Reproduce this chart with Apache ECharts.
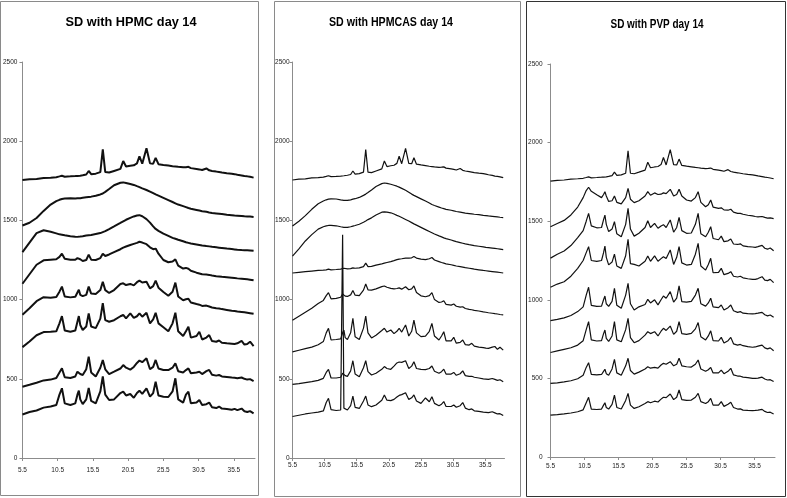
<!DOCTYPE html>
<html><head><meta charset="utf-8">
<script src="https://cdn.jsdelivr.net/npm/echarts@6/dist/echarts.min.js"></script>
<style>html,body{margin:0;padding:0;background:#fff}#c{width:787px;height:498px}</style>
</head><body><div id="c"></div>
<script>
// 2-theta sample positions (degrees)
const twoTheta = [
  5.5, 6.5, 7.5, 8.5, 9.5, 10.3, 10.75, 11.1, 11.5, 12.3,
  13.0, 13.3, 13.5, 13.7, 14.05, 14.55, 14.9, 15.25, 15.9, 16.55,
  16.9, 17.25, 17.8, 18.5, 19.4, 19.8, 20.2, 20.8, 21.3, 21.75,
  22.1, 22.5, 23.1, 23.6, 24.05, 24.4, 24.8, 25.5, 26.2, 26.8,
  27.2, 27.6, 28.3, 28.7, 29.05, 29.4, 30.2, 30.6, 31.0, 31.6,
  32.0, 32.4, 33.0, 33.4, 33.8, 34.5, 35.2, 35.6, 36.0, 36.6,
  37.0, 37.4, 37.8, 38.3
];
const xTickLabels = [5.5, 10.5, 15.5, 20.5, 25.5, 30.5, 35.5];
const yTickStep = 500;
const yMax = 2500;
const panelTitles = ['SD with HPMC day 14', 'SD with HPMCAS day 14', 'SD with PVP day 14'];

// top trace (same in all three panels)
const crystalRef = [
  1755, 1760, 1762, 1768, 1770, 1773, 1778, 1782, 1776, 1778,
  1780, 1781, 1782, 1782, 1785, 1790, 1812, 1792, 1795, 1805,
  1948, 1805, 1802, 1812, 1825, 1875, 1840, 1845, 1848, 1860,
  1905, 1858, 1955, 1860, 1858, 1895, 1855, 1850, 1846, 1842,
  1840, 1838, 1835, 1836, 1838, 1830, 1825, 1822, 1818, 1828,
  1816, 1812, 1808, 1805, 1802, 1798, 1795, 1792, 1788, 1784,
  1780, 1778, 1775, 1770
];

// ---- HPMC ----
const hpmc2 = [
  1468, 1485, 1515, 1560, 1600, 1622, 1630, 1635, 1638, 1640,
  1638, 1640, 1642, 1640, 1643, 1646, 1648, 1650, 1656, 1664,
  1670, 1680, 1698, 1722, 1738, 1740, 1736, 1730, 1724, 1716,
  1710, 1702, 1692, 1682, 1672, 1664, 1656, 1642, 1628, 1616,
  1608, 1600, 1590, 1584, 1578, 1574, 1566, 1562, 1558, 1554,
  1550, 1547, 1544, 1542, 1540, 1536, 1533, 1531, 1530, 1528,
  1526, 1525, 1524, 1522
];
const hpmc3 = [
  1300, 1360, 1420, 1438, 1428, 1418, 1412, 1410, 1406, 1400,
  1397, 1396, 1397, 1398, 1400, 1404, 1406, 1408, 1414, 1420,
  1426, 1432, 1445, 1462, 1484, 1494, 1504, 1516, 1525, 1531,
  1533, 1526, 1508, 1486, 1462, 1446, 1434, 1416, 1402, 1390,
  1384, 1378, 1368, 1362, 1358, 1354, 1348, 1345, 1342, 1338,
  1336, 1333, 1330, 1328, 1326, 1322, 1319, 1317, 1315, 1313,
  1312, 1311, 1310, 1308
];
const hpmc4 = [
  1100, 1160, 1220, 1248, 1252, 1255, 1270, 1290, 1258, 1252,
  1252, 1262, 1270, 1255, 1244, 1250, 1284, 1252, 1250, 1262,
  1290, 1275, 1285, 1300, 1318, 1328, 1335, 1345, 1352, 1358,
  1365, 1360, 1350, 1330, 1318, 1322, 1290, 1250, 1236, 1240,
  1254, 1215, 1196, 1200, 1195, 1182, 1170, 1165, 1160, 1158,
  1156, 1152, 1148, 1146, 1144, 1141, 1138, 1136, 1134, 1132,
  1130, 1128, 1126, 1122
];
const hpmc5 = [
  905, 945, 990, 1015, 1012, 1016, 1050, 1082, 1020, 1014,
  1018, 1045, 1062, 1030, 1022, 1030, 1082, 1038, 1035, 1060,
  1113, 1060, 1042, 1060, 1098, 1103, 1092, 1099, 1090, 1110,
  1120, 1108, 1113, 1071, 1085, 1120, 1075, 1048, 1024, 1050,
  1107, 1020, 996, 1002, 1005, 982, 972, 968, 960, 962,
  956, 950, 945, 944, 940, 935, 930, 928, 925, 922,
  920, 917, 914, 910
];
const hpmc6 = [
  700, 735, 775, 795, 797, 800, 850, 896, 805, 797,
  805, 860, 896, 840, 808, 830, 913, 830, 820, 880,
  977, 870, 860, 870, 895, 903, 882, 913, 885, 895,
  913, 892, 917, 850, 875, 917, 850, 825, 800, 850,
  917, 800, 770, 800, 829, 760, 770, 797, 748, 760,
  776, 738, 734, 742, 728, 724, 722, 720, 724, 739,
  716, 720, 734, 706
];
const hpmc7 = [
  450, 462, 475, 490, 495, 505, 540, 566, 510, 505,
  515, 545, 556, 530, 524, 560, 640, 540, 515, 570,
  619, 560, 530, 545, 565, 587, 570, 558, 575, 600,
  615, 605, 629, 560, 575, 619, 565, 556, 555, 570,
  598, 548, 540, 555, 566, 535, 540, 545, 530, 548,
  556, 526, 520, 524, 515, 512, 508, 506, 504, 508,
  500, 495, 498, 486
];
const hpmc8 = [
  275, 290, 300, 318, 325, 335, 400, 440, 345, 335,
  345, 400, 425, 370, 340, 370, 442, 360, 345, 420,
  515, 400, 366, 370, 410, 419, 395, 404, 380, 410,
  425, 405, 440, 387, 410, 482, 395, 387, 385, 420,
  503, 370, 350, 400, 419, 345, 350, 366, 335, 340,
  350, 320, 315, 325, 312, 310, 305, 310, 302, 312,
  295, 290, 296, 282
];

// ---- HPMCAS ----
const hpmcas2 = [
  1465, 1495, 1530, 1570, 1605, 1622, 1630, 1634, 1636, 1635,
  1630, 1628, 1627, 1626, 1626, 1630, 1634, 1637, 1645, 1658,
  1666, 1676, 1692, 1714, 1732, 1736, 1734, 1728, 1722, 1716,
  1710, 1702, 1690, 1678, 1666, 1658, 1650, 1636, 1622, 1610,
  1600, 1594, 1584, 1578, 1574, 1570, 1564, 1560, 1556, 1552,
  1549, 1546, 1543, 1541, 1539, 1536, 1532, 1530, 1528, 1526,
  1524, 1522, 1520, 1518
];
const hpmcas3 = [
  1275, 1320, 1370, 1410, 1445, 1460, 1465, 1468, 1468, 1466,
  1460, 1458, 1456, 1455, 1456, 1460, 1464, 1468, 1476, 1488,
  1496, 1505, 1516, 1534, 1552, 1554, 1552, 1548, 1540, 1532,
  1526, 1518, 1506, 1496, 1486, 1478, 1470, 1456, 1442, 1430,
  1422, 1414, 1402, 1396, 1390, 1385, 1376, 1371, 1366, 1360,
  1356, 1352, 1347, 1344, 1341, 1337, 1333, 1330, 1328, 1325,
  1323, 1321, 1319, 1316
];
const hpmcas4 = [
  1168, 1172, 1176, 1180, 1184, 1186, 1188, 1192, 1188, 1190,
  1192, 1195, 1198, 1194, 1194, 1196, 1200, 1198, 1200, 1208,
  1230, 1208, 1210, 1218, 1226, 1230, 1234, 1240, 1246, 1252,
  1256, 1258, 1262, 1262, 1264, 1272, 1262, 1256, 1252, 1258,
  1266, 1250, 1240, 1234, 1230, 1226, 1220, 1216, 1212, 1208,
  1205, 1202, 1198, 1195, 1192, 1188, 1184, 1182, 1180, 1177,
  1175, 1173, 1171, 1168
];
const hpmcas5 = [
  870, 895, 920, 945, 975, 995, 1025, 1044, 1005, 1008,
  1015, 1035, 1044, 1022, 1020, 1030, 1057, 1028, 1025, 1060,
  1098, 1062, 1060, 1068, 1082, 1086, 1078, 1071, 1068, 1070,
  1074, 1066, 1081, 1062, 1068, 1086, 1045, 1024, 1018, 1025,
  1044, 1000, 982, 985, 993, 970, 965, 972, 958, 952,
  955, 944, 938, 936, 932, 928, 922, 920, 917, 914,
  911, 909, 906, 903
];
const hpmcas6 = [
  670, 680, 690, 700, 715, 735, 790, 819, 745, 748,
  752, 790, 808, 760, 748, 790, 882, 765, 748, 820,
  896, 790, 758, 775, 805, 819, 795, 808, 785, 800,
  819, 795, 840, 770, 800, 871, 790, 766, 770, 800,
  850, 770, 745, 770, 797, 740, 740, 762, 725, 730,
  745, 716, 713, 724, 706, 700, 697, 694, 692, 700,
  704, 686, 699, 681
];
const hpmcas7 = [
  465, 470, 476, 482, 490, 503, 540, 560, 505, 505,
  510, 535, 545, 520, 515, 550, 614, 530, 513, 570,
  614, 545, 524, 535, 560, 577, 565, 560, 580, 600,
  606, 604, 614, 565, 580, 608, 565, 560, 558, 565,
  581, 548, 535, 545, 561, 530, 530, 540, 522, 532,
  550, 520, 515, 516, 510, 505, 500, 498, 496, 502,
  496, 490, 494, 482
];
const hpmcas8 = [
  262, 270, 278, 284, 290, 297, 350, 377, 305, 300,
  303, 1410, 315, 305, 303, 330, 391, 320, 313, 360,
  391, 335, 324, 335, 365, 398, 365, 362, 370, 385,
  395, 400, 412, 370, 380, 398, 360, 345, 379, 355,
  387, 345, 330, 340, 356, 325, 325, 335, 320, 330,
  350, 315, 305, 310, 298, 294, 290, 288, 286, 292,
  285, 278, 280, 268
];

// ---- PVP ----
const pvp2 = [
  1465, 1485, 1505, 1540, 1590, 1650, 1695, 1716, 1690, 1668,
  1650, 1670, 1688, 1660, 1626, 1630, 1660, 1620, 1610, 1650,
  1709, 1640, 1618, 1630, 1660, 1688, 1665, 1680, 1670, 1672,
  1680, 1675, 1703, 1660, 1670, 1703, 1660, 1635, 1628, 1650,
  1688, 1620, 1592, 1605, 1635, 1590, 1582, 1585, 1572, 1570,
  1576, 1558, 1550, 1550, 1544, 1538, 1534, 1530, 1528, 1530,
  1524, 1520, 1521, 1516
];
const pvp3 = [
  1265, 1290, 1310, 1345, 1395, 1440, 1500, 1550, 1470, 1458,
  1460, 1510, 1539, 1480, 1434, 1450, 1497, 1420, 1401, 1480,
  1582, 1450, 1405, 1423, 1460, 1503, 1460, 1486, 1455, 1470,
  1478, 1460, 1508, 1430, 1460, 1525, 1440, 1423, 1425, 1480,
  1550, 1420, 1401, 1430, 1465, 1390, 1382, 1405, 1370, 1375,
  1387, 1355, 1352, 1356, 1343, 1338, 1336, 1334, 1338, 1346,
  1328, 1322, 1330, 1312
];
const pvp4 = [
  1080, 1100, 1115, 1150, 1200, 1250, 1300, 1338, 1250, 1245,
  1250, 1300, 1342, 1270, 1222, 1240, 1291, 1215, 1200, 1280,
  1385, 1230, 1225, 1215, 1245, 1279, 1245, 1279, 1245, 1262,
  1274, 1262, 1317, 1225, 1270, 1338, 1235, 1221, 1225, 1290,
  1359, 1215, 1189, 1225, 1264, 1172, 1175, 1200, 1160, 1168,
  1179, 1150, 1145, 1150, 1140, 1134, 1130, 1130, 1135, 1147,
  1125, 1122, 1130, 1109
];
const pvp5 = [
  867, 875, 885, 900, 925, 955, 1030, 1080, 965, 958,
  960, 1000, 1024, 975, 958, 990, 1073, 965, 946, 1030,
  1105, 975, 935, 955, 970, 1003, 980, 1000, 968, 1000,
  1024, 1010, 1052, 985, 1010, 1088, 988, 985, 990, 1030,
  1073, 975, 960, 980, 1010, 955, 950, 967, 935, 950,
  967, 930, 920, 925, 915, 912, 910, 912, 915, 920,
  905, 898, 903, 889
];
const pvp6 = [
  665, 675, 685, 695, 712, 740, 810, 861, 745, 738,
  740, 785, 808, 755, 735, 770, 861, 745, 733, 810,
  882, 760, 727, 740, 775, 797, 785, 797, 770, 800,
  819, 805, 833, 780, 800, 861, 785, 780, 786, 815,
  855, 765, 745, 770, 803, 740, 738, 761, 725, 740,
  761, 720, 712, 716, 708, 702, 698, 700, 705, 712,
  694, 688, 694, 676
];
const pvp7 = [
  468, 472, 478, 485, 498, 520, 570, 600, 525, 522,
  525, 545, 558, 530, 520, 560, 621, 535, 520, 580,
  628, 550, 527, 540, 560, 574, 565, 570, 565, 585,
  596, 590, 606, 580, 590, 628, 580, 574, 572, 590,
  617, 560, 545, 555, 570, 535, 535, 553, 530, 545,
  564, 522, 515, 514, 508, 505, 500, 500, 502, 508,
  496, 490, 492, 480
];
const pvp8 = [
  267, 270, 274, 280, 288, 300, 345, 380, 305, 302,
  305, 330, 345, 315, 305, 335, 394, 315, 305, 360,
  405, 330, 309, 320, 340, 352, 345, 355, 350, 368,
  380, 378, 401, 365, 380, 426, 365, 360, 362, 380,
  405, 352, 340, 352, 373, 330, 330, 352, 322, 335,
  348, 315, 305, 306, 298, 296, 295, 296, 298, 303,
  290, 283, 285, 274
];

const panelSeries = [
  [crystalRef, hpmc2, hpmc3, hpmc4, hpmc5, hpmc6, hpmc7, hpmc8],
  [crystalRef, hpmcas2, hpmcas3, hpmcas4, hpmcas5, hpmcas6, hpmcas7, hpmcas8],
  [crystalRef, pvp2, pvp3, pvp4, pvp5, pvp6, pvp7, pvp8]
];

// ---- layout / style ----
const FONT = 'Liberation Sans, Arial, Helvetica, sans-serif';
const layout = [
  { grid: { left: 18, top: 62, width: 237, height: 396 }, lw: 2, yMargin: 5, xMargin: 9,
    box: [0.5, 1.5, 258, 494], boxColor: '#8a8a8a',
    title: { x: 131, y: 23, size: 12.5, sx: 1.02 } },
  { grid: { left: 292.5, top: 62, width: 212, height: 396 }, lw: 1.2, yMargin: 3, xMargin: 4,
    box: [274.5, 1.5, 246, 495], boxColor: '#8a8a8a',
    title: { x: 391, y: 23, size: 12, sx: 0.885 } },
  { grid: { left: 550.5, top: 64, width: 224.5, height: 393 }, lw: 1.2, yMargin: 8, xMargin: 6,
    box: [526.5, 1.5, 259, 495], boxColor: '#333333',
    title: { x: 657, y: 25, size: 12, sx: 0.83 } }
];
const axisGray = '#8c8c8c';
const plainNum = v => String(v);

const grids = [], xAxes = [], yAxes = [], series = [], graphics = [];
layout.forEach((L, i) => {
  grids.push(Object.assign({ containLabel: false }, L.grid));
  xAxes.push({
    gridIndex: i, type: 'value', min: 5.5, max: 38.5, interval: 5,
    axisLine: { show: true, onZero: false, lineStyle: { color: axisGray, width: 1 } },
    axisTick: { show: true, length: 3, customValues: xTickLabels, lineStyle: { color: axisGray } },
    axisLabel: { customValues: xTickLabels, fontSize: 6.5, color: '#222', margin: L.xMargin,
      fontFamily: FONT, formatter: plainNum },
    splitLine: { show: false }
  });
  yAxes.push({
    gridIndex: i, type: 'value', min: 0, max: yMax, interval: yTickStep,
    axisLine: { show: true, onZero: false, lineStyle: { color: axisGray, width: 1 } },
    axisTick: { show: true, length: 3, lineStyle: { color: axisGray } },
    axisLabel: { fontSize: 6.5, color: '#222', margin: L.yMargin, fontFamily: FONT, formatter: plainNum },
    splitLine: { show: false }
  });
  panelSeries[i].forEach(ys => {
    series.push({
      type: 'line', xAxisIndex: i, yAxisIndex: i, showSymbol: false, symbol: 'none',
      silent: true, animation: false,
      lineStyle: { color: '#111', width: L.lw },
      data: twoTheta.map((x, k) => [x, ys[k]])
    });
  });
  graphics.push({
    type: 'rect', silent: true,
    shape: { x: L.box[0], y: L.box[1], width: L.box[2], height: L.box[3] },
    style: { fill: 'none', stroke: L.boxColor, lineWidth: 1 }
  });
  graphics.push({
    type: 'text', silent: true, x: L.title.x, y: L.title.y, scaleX: L.title.sx,
    style: { text: panelTitles[i], x: 0, y: 0, fill: '#000',
      font: 'bold ' + L.title.size + 'px ' + FONT,
      textAlign: 'center', textVerticalAlign: 'middle', align: 'center', verticalAlign: 'middle' }
  });
});

const chart = echarts.init(document.getElementById('c'), null, { renderer: 'canvas' });
chart.setOption({
  backgroundColor: '#ffffff',
  animation: false,
  grid: grids, xAxis: xAxes, yAxis: yAxes, series: series,
  graphic: graphics
});
</script>
</body></html>
